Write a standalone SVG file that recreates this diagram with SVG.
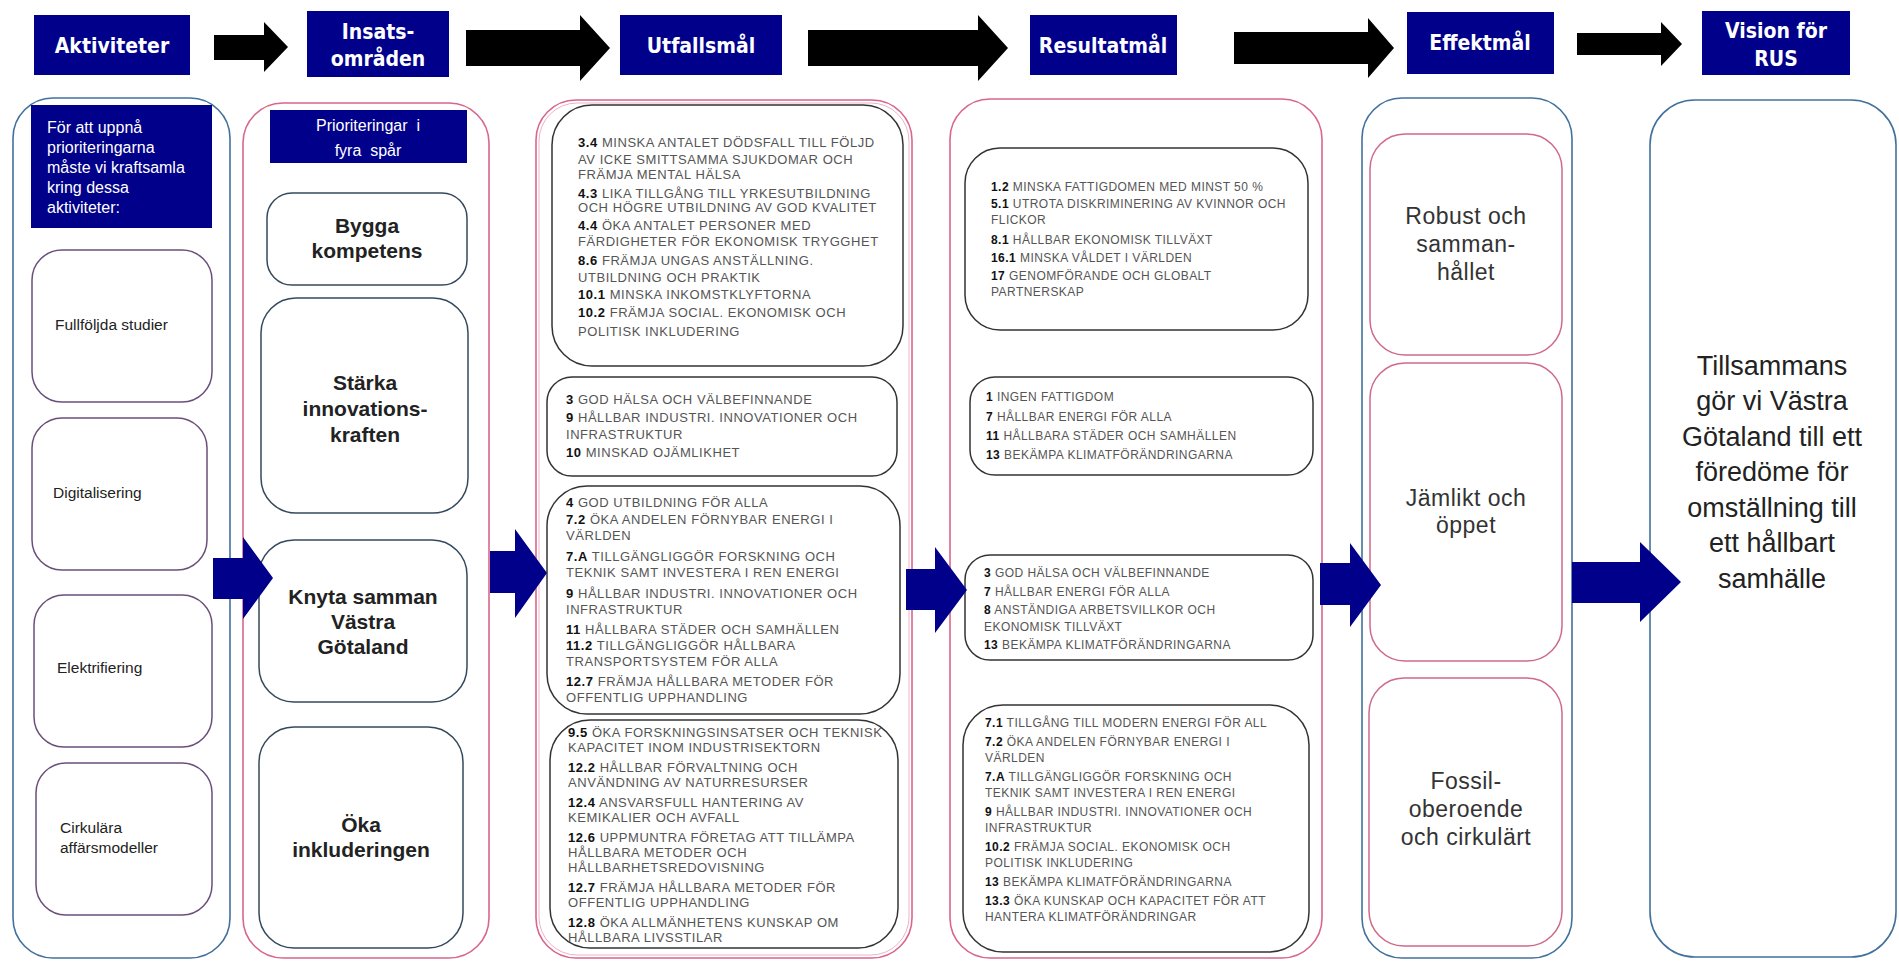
<svg xmlns="http://www.w3.org/2000/svg" width="1899" height="961" viewBox="0 0 1899 961">
<style>
.bg{fill:#ffffff}
.hdr{fill:#00008B}
.hdrt{font-family:"DejaVu Sans Condensed","DejaVu Sans","Liberation Sans",sans-serif;font-weight:bold;fill:#ffffff;font-size:21px;text-anchor:middle}
.blk{fill:#000000}
.nav{fill:#00008B}
.colB{fill:#ffffff;stroke:#41719C;stroke-width:1.6}
.colP{fill:#ffffff;stroke:#D9668C;stroke-width:1.6}
.in1{fill:#ffffff;stroke:#6A4F7A;stroke-width:1.5}
.in2{fill:#ffffff;stroke:#34495E;stroke-width:1.5}
.in3{fill:#ffffff;stroke:#333333;stroke-width:1.5}
.in5{fill:#ffffff;stroke:#CF6A8A;stroke-width:1.5}
.wt{font-family:"Liberation Sans",Arial,sans-serif;fill:#ffffff;font-size:16px}
.a1{font-family:"Liberation Sans",Arial,sans-serif;fill:#222;font-size:15.5px}
.b2{font-family:"Liberation Sans",Arial,sans-serif;fill:#222;font-size:21px;font-weight:bold;text-anchor:middle}
.sm{font-family:"Liberation Sans",Arial,sans-serif;fill:#555;font-size:13px;letter-spacing:0.55px}
.sr{font-family:"Liberation Sans",Arial,sans-serif;fill:#555;font-size:12px;letter-spacing:0.45px}
.sm tspan.n,.sr tspan.n{font-weight:bold;fill:#111}
.e5{font-family:"Liberation Sans",Arial,sans-serif;fill:#333;font-size:23px;text-anchor:middle;letter-spacing:0.5px}
.vis{font-family:"Liberation Sans",Arial,sans-serif;fill:#222;font-size:27px;text-anchor:middle}
</style>
<rect class="bg" x="0" y="0" width="1899" height="961"/>

<!-- Header -->
<g id="header-aktiviteter"><rect class="hdr" x="34" y="15" width="156" height="60"/><text class="hdrt" x="112" y="53">Aktiviteter</text></g>
<g id="header-insats"><rect class="hdr" x="307" y="11" width="142" height="66"/><text class="hdrt" x="378" y="39">Insats-</text><text class="hdrt" x="378" y="66">områden</text></g>
<g id="header-utfall"><rect class="hdr" x="620" y="15" width="162" height="60"/><text class="hdrt" x="701" y="53">Utfallsmål</text></g>
<g id="header-resultat"><rect class="hdr" x="1030" y="15" width="147" height="60"/><text class="hdrt" x="1103" y="53">Resultatmål</text></g>
<g id="header-effekt"><rect class="hdr" x="1407" y="12" width="147" height="62"/><text class="hdrt" x="1480" y="50">Effektmål</text></g>
<g id="header-vision"><rect class="hdr" x="1702" y="11" width="148" height="64"/><text class="hdrt" x="1776" y="38">Vision för</text><text class="hdrt" x="1776" y="66">RUS</text></g>

<!-- Columns -->
<g id="col-aktiviteter">
<rect class="colB" x="13" y="98" width="217" height="860" rx="40"/>
<rect class="hdr" x="31" y="105" width="181" height="123"/>
<text class="wt" x="47" y="133">För att uppnå</text>
<text class="wt" x="47" y="153">prioriteringarna</text>
<text class="wt" x="47" y="173">måste vi kraftsamla</text>
<text class="wt" x="47" y="193">kring dessa</text>
<text class="wt" x="47" y="213">aktiviteter:</text>
</g>
<g id="akt-fullfoljda"><rect class="in1" x="32" y="250" width="180" height="152" rx="30"/><text class="a1" x="55" y="330">Fullföljda studier</text></g>
<g id="akt-digitalisering"><rect class="in1" x="32" y="418" width="175" height="152" rx="30"/><text class="a1" x="53" y="498">Digitalisering</text></g>
<g id="akt-elektrifiering"><rect class="in1" x="34" y="595" width="178" height="152" rx="30"/><text class="a1" x="57" y="673">Elektrifiering</text></g>
<g id="akt-cirkulara"><rect class="in1" x="36" y="763" width="176" height="152" rx="30"/><text class="a1" x="60" y="833">Cirkulära</text><text class="a1" x="60" y="853">affärsmodeller</text></g>

<g id="col-insats">
<rect class="colP" x="243" y="103" width="246" height="855" rx="40"/>
<rect class="hdr" x="270" y="110" width="197" height="53"/>
<text class="wt" x="368" y="131" font-size="19.5" text-anchor="middle">Prioriteringar&#160; i</text>
<text class="wt" x="368" y="156" font-size="19.5" text-anchor="middle">fyra&#160; spår</text>
</g>
<g id="ins-bygga"><rect class="in2" x="267" y="193" width="200" height="92" rx="25"/><text class="b2" x="367" y="233">Bygga</text><text class="b2" x="367" y="258">kompetens</text></g>
<g id="ins-starka"><rect class="in2" x="261" y="298" width="207" height="215" rx="35"/><text class="b2" x="365" y="390">Stärka</text><text class="b2" x="365" y="416">innovations-</text><text class="b2" x="365" y="442">kraften</text></g>
<g id="ins-knyta"><rect class="in2" x="259" y="540" width="208" height="162" rx="35"/><text class="b2" x="363" y="604">Knyta samman</text><text class="b2" x="363" y="629">Västra</text><text class="b2" x="363" y="654">Götaland</text></g>
<g id="ins-oka"><rect class="in2" x="259" y="727" width="204" height="221" rx="35"/><text class="b2" x="361" y="832">Öka</text><text class="b2" x="361" y="857">inkluderingen</text></g>

<g id="col-utfall"><rect class="colP" x="536" y="100" width="376" height="858" rx="40"/><rect x="539" y="103" width="370" height="852" rx="38" fill="none" stroke="#EDB3C6" stroke-width="1"/></g>
<g id="utf-1">
<rect class="in3" x="552" y="105" width="351" height="261" rx="40"/>
<text class="sm" x="578" y="146.5"><tspan class="n">3.4</tspan> MINSKA ANTALET DÖDSFALL TILL FÖLJD</text>
<text class="sm" x="578" y="163.5">AV ICKE SMITTSAMMA SJUKDOMAR OCH</text>
<text class="sm" x="578" y="179">FRÄMJA MENTAL HÄLSA</text>
<text class="sm" x="578" y="197.5"><tspan class="n">4.3</tspan> LIKA TILLGÅNG TILL YRKESUTBILDNING</text>
<text class="sm" x="578" y="212">OCH HÖGRE UTBILDNING AV GOD KVALITET</text>
<text class="sm" x="578" y="230"><tspan class="n">4.4</tspan> ÖKA ANTALET PERSONER MED</text>
<text class="sm" x="578" y="246">FÄRDIGHETER FÖR EKONOMISK TRYGGHET</text>
<text class="sm" x="578" y="265"><tspan class="n">8.6</tspan>  FRÄMJA UNGAS ANSTÄLLNING.</text>
<text class="sm" x="578" y="281.5">UTBILDNING OCH PRAKTIK</text>
<text class="sm" x="578" y="299"><tspan class="n">10.1</tspan>  MINSKA INKOMSTKLYFTORNA</text>
<text class="sm" x="578" y="317"><tspan class="n">10.2</tspan>  FRÄMJA SOCIAL. EKONOMISK OCH</text>
<text class="sm" x="578" y="335.5">POLITISK INKLUDERING</text>
</g>
<g id="utf-2">
<rect class="in3" x="547" y="377" width="350" height="99" rx="25"/>
<text class="sm" x="566" y="404"><tspan class="n">3</tspan> GOD HÄLSA OCH VÄLBEFINNANDE</text>
<text class="sm" x="566" y="422"><tspan class="n">9</tspan> HÅLLBAR INDUSTRI. INNOVATIONER OCH</text>
<text class="sm" x="566" y="439">INFRASTRUKTUR</text>
<text class="sm" x="566" y="457"><tspan class="n">10</tspan> MINSKAD OJÄMLIKHET</text>
</g>
<g id="utf-3">
<rect class="in3" x="547" y="486" width="353" height="228" rx="40"/>
<text class="sm" x="566" y="507"><tspan class="n">4</tspan> GOD UTBILDNING FÖR ALLA</text>
<text class="sm" x="566" y="524"><tspan class="n">7.2</tspan> ÖKA ANDELEN FÖRNYBAR ENERGI I</text>
<text class="sm" x="566" y="540">VÄRLDEN</text>
<text class="sm" x="566" y="561"><tspan class="n">7.A</tspan>  TILLGÄNGLIGGÖR FORSKNING OCH</text>
<text class="sm" x="566" y="577">TEKNIK SAMT INVESTERA I REN ENERGI</text>
<text class="sm" x="566" y="598"><tspan class="n">9</tspan> HÅLLBAR INDUSTRI. INNOVATIONER OCH</text>
<text class="sm" x="566" y="614">INFRASTRUKTUR</text>
<text class="sm" x="566" y="634"><tspan class="n">11</tspan> HÅLLBARA STÄDER OCH SAMHÄLLEN</text>
<text class="sm" x="566" y="650"><tspan class="n">11.2</tspan> TILLGÄNGLIGGÖR HÅLLBARA</text>
<text class="sm" x="566" y="666">TRANSPORTSYSTEM FÖR ALLA</text>
<text class="sm" x="566" y="686"><tspan class="n">12.7</tspan>  FRÄMJA HÅLLBARA METODER FÖR</text>
<text class="sm" x="566" y="702">OFFENTLIG UPPHANDLING</text>
</g>
<g id="utf-4">
<rect class="in3" x="550" y="720" width="348" height="228" rx="40"/>
<text class="sm" x="568" y="737"><tspan class="n">9.5</tspan> ÖKA FORSKNINGSINSATSER OCH TEKNISK</text>
<text class="sm" x="568" y="752">KAPACITET INOM INDUSTRISEKTORN</text>
<text class="sm" x="568" y="772"><tspan class="n">12.2</tspan>  HÅLLBAR FÖRVALTNING OCH</text>
<text class="sm" x="568" y="787">ANVÄNDNING AV NATURRESURSER</text>
<text class="sm" x="568" y="807"><tspan class="n">12.4</tspan> ANSVARSFULL HANTERING AV</text>
<text class="sm" x="568" y="822">KEMIKALIER OCH AVFALL</text>
<text class="sm" x="568" y="842"><tspan class="n">12.6</tspan> UPPMUNTRA FÖRETAG ATT TILLÄMPA</text>
<text class="sm" x="568" y="857">HÅLLBARA METODER OCH</text>
<text class="sm" x="568" y="872">HÅLLBARHETSREDOVISNING</text>
<text class="sm" x="568" y="892"><tspan class="n">12.7</tspan>  FRÄMJA HÅLLBARA METODER FÖR</text>
<text class="sm" x="568" y="907">OFFENTLIG UPPHANDLING</text>
<text class="sm" x="568" y="927"><tspan class="n">12.8</tspan> ÖKA ALLMÄNHETENS KUNSKAP OM</text>
<text class="sm" x="568" y="942">HÅLLBARA LIVSSTILAR</text>
</g>

<g id="col-resultat"><rect class="colP" x="950" y="99" width="372" height="859" rx="40"/></g>
<g id="res-1">
<rect class="in3" x="965" y="148" width="343" height="182" rx="35"/>
<text class="sr" x="991" y="191"><tspan class="n">1.2</tspan> MINSKA FATTIGDOMEN MED MINST 50 %</text>
<text class="sr" x="991" y="208"><tspan class="n">5.1</tspan> UTROTA DISKRIMINERING AV KVINNOR OCH</text>
<text class="sr" x="991" y="224">FLICKOR</text>
<text class="sr" x="991" y="244"><tspan class="n">8.1</tspan>  HÅLLBAR EKONOMISK TILLVÄXT</text>
<text class="sr" x="991" y="262"><tspan class="n">16.1</tspan>  MINSKA VÅLDET I VÄRLDEN</text>
<text class="sr" x="991" y="280"><tspan class="n">17</tspan> GENOMFÖRANDE OCH GLOBALT</text>
<text class="sr" x="991" y="296">PARTNERSKAP</text>
</g>
<g id="res-2">
<rect class="in3" x="970" y="377" width="343" height="98" rx="25"/>
<text class="sr" x="986" y="401"><tspan class="n">1</tspan> INGEN FATTIGDOM</text>
<text class="sr" x="986" y="421"><tspan class="n">7</tspan> HÅLLBAR ENERGI FÖR ALLA</text>
<text class="sr" x="986" y="440"><tspan class="n">11</tspan> HÅLLBARA STÄDER OCH SAMHÄLLEN</text>
<text class="sr" x="986" y="459"><tspan class="n">13</tspan> BEKÄMPA KLIMATFÖRÄNDRINGARNA</text>
</g>
<g id="res-3">
<rect class="in3" x="965" y="555" width="348" height="105" rx="25"/>
<text class="sr" x="984" y="577"><tspan class="n">3</tspan> GOD HÄLSA OCH VÄLBEFINNANDE</text>
<text class="sr" x="984" y="596"><tspan class="n">7</tspan> HÅLLBAR ENERGI FÖR ALLA</text>
<text class="sr" x="984" y="614"><tspan class="n">8</tspan> ANSTÄNDIGA ARBETSVILLKOR  OCH</text>
<text class="sr" x="984" y="631">EKONOMISK TILLVÄXT</text>
<text class="sr" x="984" y="649"><tspan class="n">13</tspan> BEKÄMPA KLIMATFÖRÄNDRINGARNA</text>
</g>
<g id="res-4">
<rect class="in3" x="963" y="705" width="346" height="247" rx="40"/>
<text class="sr" x="985" y="727"><tspan class="n">7.1</tspan>  TILLGÅNG TILL MODERN ENERGI FÖR ALL</text>
<text class="sr" x="985" y="746"><tspan class="n">7.2</tspan> ÖKA ANDELEN FÖRNYBAR ENERGI I</text>
<text class="sr" x="985" y="762">VÄRLDEN</text>
<text class="sr" x="985" y="781"><tspan class="n">7.A</tspan> TILLGÄNGLIGGÖR FORSKNING OCH</text>
<text class="sr" x="985" y="797">TEKNIK SAMT INVESTERA I REN ENERGI</text>
<text class="sr" x="985" y="816"><tspan class="n">9</tspan> HÅLLBAR INDUSTRI. INNOVATIONER OCH</text>
<text class="sr" x="985" y="832">INFRASTRUKTUR</text>
<text class="sr" x="985" y="851"><tspan class="n">10.2</tspan> FRÄMJA SOCIAL. EKONOMISK OCH</text>
<text class="sr" x="985" y="867">POLITISK INKLUDERING</text>
<text class="sr" x="985" y="886"><tspan class="n">13</tspan> BEKÄMPA KLIMATFÖRÄNDRINGARNA</text>
<text class="sr" x="985" y="905"><tspan class="n">13.3</tspan> ÖKA KUNSKAP OCH KAPACITET FÖR ATT</text>
<text class="sr" x="985" y="921">HANTERA KLIMATFÖRÄNDRINGAR</text>
</g>

<g id="col-effekt"><rect class="colB" x="1362" y="98" width="210" height="860" rx="40"/></g>
<g id="eff-robust"><rect class="in5" x="1370" y="134" width="192" height="221" rx="35"/><text class="e5" x="1466" y="224">Robust och</text><text class="e5" x="1466" y="252">samman-</text><text class="e5" x="1466" y="280">hållet</text></g>
<g id="eff-jamlikt"><rect class="in5" x="1370" y="363" width="192" height="298" rx="35"/><text class="e5" x="1466" y="506">Jämlikt och</text><text class="e5" x="1466" y="533">öppet</text></g>
<g id="eff-fossil"><rect class="in5" x="1369" y="678" width="193" height="268" rx="35"/><text class="e5" x="1466" y="789">Fossil-</text><text class="e5" x="1466" y="817">oberoende</text><text class="e5" x="1466" y="845">och cirkulärt</text></g>

<g id="col-vision">
<rect class="colB" x="1650" y="100" width="246" height="857" rx="45"/>
<text class="vis" x="1772" y="375">Tillsammans</text>
<text class="vis" x="1772" y="410">gör vi Västra</text>
<text class="vis" x="1772" y="446">Götaland till ett</text>
<text class="vis" x="1772" y="481">föredöme för</text>
<text class="vis" x="1772" y="517">omställning till</text>
<text class="vis" x="1772" y="552">ett hållbart</text>
<text class="vis" x="1772" y="588">samhälle</text>
</g>

<!-- Connectors -->
<g id="connectors">
<polygon class="blk" points="214,35 264,35 264,22 288,47 264,72 264,60 214,60"/>
<polygon class="blk" points="466,30 580,30 580,15 610,48 580,81 580,66 466,66"/>
<polygon class="blk" points="808,30 978,30 978,15 1008,48 978,81 978,66 808,66"/>
<polygon class="blk" points="1234,32 1368,32 1368,18 1394,48 1368,78 1368,64 1234,64"/>
<polygon class="blk" points="1577,33 1661,33 1661,22 1682,44 1661,66 1661,55 1577,55"/>
<polygon class="nav" points="213,558 243,558 243,537 273,578 243,619 243,599 213,599"/>
<polygon class="nav" points="490,551 515,551 515,529 547,573 515,618 515,593 490,593"/>
<polygon class="nav" points="906,569 935,569 935,547 967,590 935,633 935,610 906,610"/>
<polygon class="nav" points="1320,563 1350,563 1350,543 1381,585 1350,627 1350,605 1320,605"/>
<polygon class="nav" points="1572,562 1640,562 1640,542 1681,582 1640,622 1640,603 1572,603"/>
</g>
</svg>
